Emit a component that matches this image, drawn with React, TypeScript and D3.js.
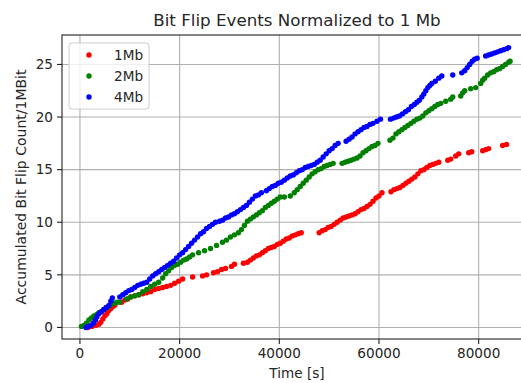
import * as d3 from 'd3';

// accumulated bit flip count per 1 Mbit: [time s, count]
const red1Mb: [number, number][] = [
  [1600, 0.0], [2400, 0.1], [3200, 0.2], [3800, 0.3], [4200, 0.5], [4600, 0.8], [5000, 1.1], [5400, 1.3],
  [5800, 1.6], [6200, 1.8], [6600, 2.0], [7000, 2.1], [8400, 2.4], [9000, 2.6], [9600, 2.7], [10200, 2.9],
  [11000, 3.0], [11800, 3.1], [12600, 3.2], [13400, 3.3], [14200, 3.4], [15000, 3.6], [15800, 3.7],
  [16600, 3.8], [17400, 3.9], [18200, 4.0], [19000, 4.2], [19800, 4.4], [20600, 4.6], [22600, 4.8],
  [24600, 4.9], [25400, 5.0], [26800, 5.2], [27600, 5.3], [28400, 5.5], [29200, 5.6], [30400, 5.8],
  [31000, 6.0], [32800, 6.1], [33600, 6.2], [34200, 6.4], [34800, 6.6], [35400, 6.8], [36000, 6.9],
  [36600, 7.1], [37200, 7.3], [37800, 7.5], [38400, 7.6], [39000, 7.7], [39600, 7.9], [40200, 8.0],
  [40800, 8.2], [41400, 8.4], [42000, 8.5], [42600, 8.7], [43200, 8.8], [43800, 8.9], [44400, 9.0],
  [48000, 9.0], [48600, 9.2], [49200, 9.3], [49800, 9.5], [50400, 9.6], [51000, 9.8], [51600, 10.0],
  [52200, 10.2], [52800, 10.4], [53400, 10.5], [54000, 10.6], [54600, 10.7], [55200, 10.8], [55800, 11.0],
  [56400, 11.2], [57000, 11.3], [57600, 11.5], [58200, 11.7], [58800, 12.0], [59400, 12.3], [60000, 12.5],
  [60600, 12.8], [62400, 12.9], [63000, 13.1], [63600, 13.2], [64200, 13.3], [64800, 13.5], [65400, 13.7],
  [66000, 13.9], [66600, 14.1], [67200, 14.3], [67800, 14.6], [68400, 14.9], [69000, 15.0], [69600, 15.2],
  [70200, 15.4], [70800, 15.5], [71400, 15.6], [72000, 15.7], [73800, 15.9], [74400, 16.0], [75400, 16.3],
  [76000, 16.5], [78000, 16.6], [78600, 16.7], [80800, 16.8], [81400, 16.9], [82000, 17.0], [84800, 17.3],
  [85600, 17.4],
];

const green2Mb: [number, number][] = [
  [300, 0.1], [800, 0.2], [1300, 0.4], [1800, 0.7], [2300, 0.9], [2800, 1.1], [3300, 1.2], [3800, 1.4],
  [4300, 1.5], [4800, 1.7], [5300, 1.9], [5800, 2.0], [6300, 2.2], [6800, 2.3], [7400, 2.4], [8000, 2.4],
  [9400, 2.7], [10200, 2.9], [11000, 3.0], [11800, 3.1], [12600, 3.4], [13400, 3.6], [14200, 3.9],
  [15000, 4.1], [15800, 4.3], [16600, 4.7], [17200, 5.1], [17800, 5.4], [18400, 5.7], [19000, 5.9],
  [19600, 6.0], [20200, 6.2], [20800, 6.4], [21400, 6.5], [22000, 6.7], [22600, 6.9], [23800, 7.1],
  [25000, 7.3], [26200, 7.5], [27400, 7.8], [28600, 8.1], [29400, 8.3], [30200, 8.6], [31000, 8.8],
  [31800, 9.0], [32400, 9.3], [33000, 9.7], [33600, 10.1], [34200, 10.3], [34800, 10.5], [35400, 10.7],
  [36000, 10.9], [36600, 11.1], [37200, 11.4], [37800, 11.6], [38400, 11.8], [39000, 12.0], [39600, 12.2],
  [40200, 12.4], [41000, 12.4], [42200, 12.5], [43000, 12.8], [43600, 13.1], [44200, 13.4], [44800, 13.7],
  [45400, 14.0], [46000, 14.3], [46600, 14.6], [47200, 14.8], [47800, 15.0], [48400, 15.1], [49000, 15.3],
  [49600, 15.4], [50200, 15.5], [50800, 15.6], [52600, 15.6], [53200, 15.7], [53800, 15.8], [54400, 15.9],
  [55000, 16.0], [55600, 16.1], [56200, 16.3], [56800, 16.6], [57400, 16.8], [58000, 17.0], [58600, 17.2],
  [59200, 17.3], [59800, 17.5], [62200, 17.8], [62800, 18.0], [63400, 18.4], [64000, 18.6], [64600, 18.8],
  [65200, 19.0], [65800, 19.2], [66400, 19.4], [67000, 19.6], [67600, 19.8], [68200, 19.9], [68800, 20.1],
  [69400, 20.4], [70000, 20.6], [70600, 20.8], [71200, 21.0], [71800, 21.2], [72400, 21.3], [73400, 21.5],
  [74400, 21.7], [74800, 21.9], [76400, 22.0], [76800, 22.3], [77200, 22.5], [78400, 22.7], [79400, 22.8],
  [80400, 23.2], [80800, 23.5], [81200, 23.7], [81800, 24.0], [82400, 24.2], [83000, 24.3], [83600, 24.5],
  [84200, 24.6], [84800, 24.8], [85400, 25.0], [86000, 25.2], [86300, 25.3],
];

const blue4Mb: [number, number][] = [
  [1200, 0.0], [1700, 0.1], [2200, 0.2], [2700, 0.4], [3100, 0.7], [3400, 1.0], [3800, 1.3], [4300, 1.5],
  [4800, 1.7], [5300, 1.9], [5800, 2.1], [6200, 2.5], [6500, 2.8], [8000, 2.9], [8600, 3.1], [9200, 3.3],
  [9800, 3.5], [10400, 3.6], [11000, 3.8], [11600, 4.0], [12200, 4.1], [12800, 4.2], [13400, 4.3],
  [14000, 4.6], [14600, 4.9], [15200, 5.1], [15800, 5.3], [16400, 5.5], [17000, 5.7], [17600, 5.9],
  [18200, 6.1], [18800, 6.3], [19400, 6.6], [20000, 6.9], [20600, 7.1], [21200, 7.4], [21800, 7.7],
  [22400, 8.0], [23000, 8.3], [23600, 8.6], [24200, 8.9], [24800, 9.1], [25400, 9.4], [26000, 9.6],
  [26600, 9.8], [27200, 10.0], [28000, 10.1], [28600, 10.2], [29200, 10.4], [29800, 10.5], [30400, 10.7],
  [31000, 10.8], [31600, 11.0], [32200, 11.2], [32800, 11.4], [33400, 11.6], [34000, 11.9], [34600, 12.2],
  [35200, 12.5], [35800, 12.6], [36400, 12.8], [37400, 13.0], [38000, 13.2], [38600, 13.4], [39200, 13.5],
  [39800, 13.7], [40400, 13.8], [41000, 14.0], [41600, 14.2], [42200, 14.4], [42800, 14.5], [43400, 14.7],
  [44000, 14.9], [44600, 15.0], [45200, 15.2], [45800, 15.3], [46400, 15.4], [47000, 15.5], [47600, 15.7],
  [48200, 15.9], [48800, 16.2], [49400, 16.5], [50000, 16.8], [50600, 17.0], [51200, 17.3], [51800, 17.5],
  [53400, 17.7], [54000, 17.9], [54600, 18.1], [55200, 18.4], [55800, 18.6], [56400, 18.8], [57000, 19.0],
  [57600, 19.1], [58200, 19.3], [58800, 19.4], [59600, 19.6], [60300, 19.8], [62300, 19.8], [62900, 19.9],
  [63500, 20.0], [64100, 20.1], [64700, 20.3], [65300, 20.5], [65900, 20.7], [66500, 21.0], [67100, 21.2],
  [67600, 21.4], [68100, 21.6], [68600, 21.9], [69000, 22.2], [69400, 22.5], [69800, 22.8], [70200, 23.0],
  [70600, 23.2], [71300, 23.4], [72000, 23.7], [72600, 23.9], [74800, 24.0], [76600, 24.2], [77200, 24.4],
  [77700, 24.7], [78200, 25.0], [78700, 25.3], [79200, 25.5], [79700, 25.6], [81400, 25.8], [82000, 25.9],
  [82600, 26.0], [83200, 26.1], [83800, 26.2], [84400, 26.3], [85000, 26.4], [85600, 26.5], [86000, 26.6],
];

const seriesNames = ['1Mb', '2Mb', '4Mb'];
const seriesColors = ['#ff0000', '#008000', '#0000ff'];
const xTicks = [0, 20000, 40000, 60000, 80000];
const yTicks = [0, 5, 10, 15, 20, 25];

const FONT = '"DejaVu Sans", sans-serif';

export default function App() {
  const width = 521;
  const height = 383;
  const margin = { top: 35, left: 62, bottom: 44, right: -11 };
  const x = d3.scaleLinear().domain([-3600, 90700]).range([margin.left, width - margin.right]);
  const y = d3.scaleLinear().domain([-1.1, 27.8]).range([height - margin.bottom, margin.top]);
  const [x0, x1] = x.range();
  const [y0, y1] = y.range();
  const series = [red1Mb, green2Mb, blue4Mb];

  return (
    <svg
      width={width}
      height={height}
      style={{ position: 'absolute', left: 0, top: 0, background: '#fff' }}
      fontFamily={FONT}
    >
      <defs>
        <clipPath id="plot-clip">
          <rect x={x0} y={y1} width={x1 - x0} height={y0 - y1} />
        </clipPath>
      </defs>
      <rect width={width} height={height} fill="#fff" />

      {/* grid */}
      {xTicks.map((t) => (
        <line key={'gx' + t} x1={x(t)} x2={x(t)} y1={y1} y2={y0} stroke="#b0b0b0" strokeWidth={1.1} />
      ))}
      {yTicks.map((t) => (
        <line key={'gy' + t} x1={x0} x2={x1} y1={y(t)} y2={y(t)} stroke="#b0b0b0" strokeWidth={1.1} />
      ))}

      {/* points */}
      <g clipPath="url(#plot-clip)">
        {series.map((data, i) => (
          <g key={seriesNames[i]} fill={seriesColors[i]}>
            {data.map((d, j) => (
              <circle key={j} cx={x(d[0])} cy={y(d[1])} r={2.7} />
            ))}
          </g>
        ))}
      </g>

      {/* spines */}
      <rect x={x0} y={y1} width={x1 - x0} height={y0 - y1} fill="none" stroke="#222" strokeWidth={1.1} />

      {/* x axis */}
      {xTicks.map((t) => (
        <g key={'xt' + t}>
          <line x1={x(t)} x2={x(t)} y1={y0} y2={y0 + 5} stroke="#222" strokeWidth={1.1} />
          <text x={x(t)} y={y0 + 19} textAnchor="middle" fontSize={13.6} fill="#262626">
            {t}
          </text>
        </g>
      ))}
      {/* y axis */}
      {yTicks.map((t) => (
        <g key={'yt' + t}>
          <line x1={x0 - 5} x2={x0} y1={y(t)} y2={y(t)} stroke="#222" strokeWidth={1.1} />
          <text x={x0 - 9} y={y(t) + 4.8} textAnchor="end" fontSize={13.6} fill="#262626">
            {t}
          </text>
        </g>
      ))}

      <text x={(x0 + x1) / 2} y={378} textAnchor="middle" fontSize={13.6} fill="#262626">
        Time [s]
      </text>
      <text
        transform={`translate(25.5,${(y0 + y1) / 2}) rotate(-90)`}
        textAnchor="middle"
        fontSize={14}
        fill="#262626"
      >
        Accumulated Bit Flip Count/1MBit
      </text>
      <text x={(x0 + x1) / 2} y={26} textAnchor="middle" fontSize={16.7} fill="#262626">
        Bit Flip Events Normalized to 1 Mb
      </text>

      {/* legend */}
      <g transform="translate(69,43)">
        <rect width={80} height={66} rx={3} fill="#fff" fillOpacity={0.8} stroke="#cccccc" strokeWidth={1} />
        {seriesNames.map((name, i) => (
          <g key={name} transform={`translate(0,${12 + i * 21})`}>
            <circle cx={20} cy={0} r={2.7} fill={seriesColors[i]} />
            <text x={45} y={4.8} fontSize={13.6} fill="#262626">
              {name}
            </text>
          </g>
        ))}
      </g>
    </svg>
  );
}
